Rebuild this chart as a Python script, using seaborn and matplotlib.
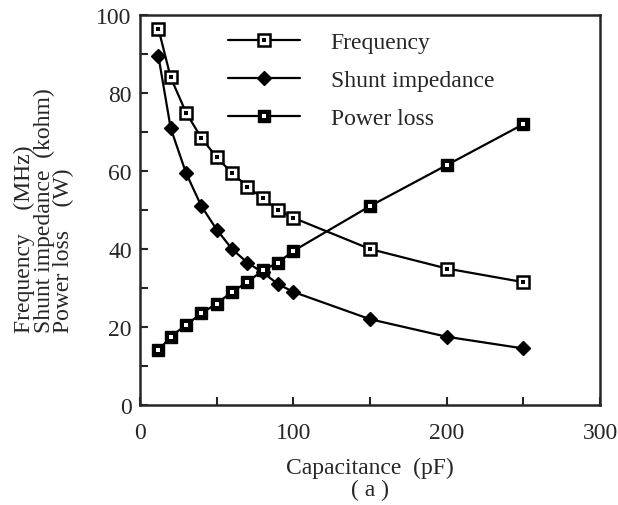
import matplotlib
matplotlib.use("Agg")
import matplotlib.pyplot as plt
import seaborn as sns
import pandas as pd
from matplotlib.lines import Line2D
from matplotlib.legend_handler import HandlerTuple
from matplotlib.ticker import MultipleLocator

# ---- data ----
capacitance = [12, 20, 30, 40, 50, 60, 70, 80, 90, 100, 150, 200, 250]
frequency = [96.5, 84, 75, 68.5, 63.5, 59.5, 56, 53, 50, 48, 40, 35, 31.5]
shunt_impedance = [89.5, 71, 59.5, 51, 45, 40, 36.5, 34, 31, 29, 22, 17.5, 14.5]
power_loss = [14, 17.5, 20.5, 23.5, 26, 29, 31.5, 34.5, 36.5, 39.5, 51, 61.5, 72]
series_names = ["Frequency", "Shunt impedance", "Power loss"]
x_ticks = [0, 100, 200, 300]
y_ticks = [0, 20, 40, 60, 80, 100]

FS = 17

sns.set_style("ticks")
plt.rcParams["font.family"] = ["Liberation Serif", "DejaVu Serif"]
plt.rcParams["font.size"] = FS

df = pd.DataFrame({"C": capacitance, "f": frequency, "R": shunt_impedance, "P": power_loss})

fig = plt.figure(figsize=(6.18, 5.06), dpi=100)
ax = fig.add_axes([140 / 618, 100 / 506, 460 / 618, 390 / 506])

common = dict(color="black", linewidth=1.6, ax=ax, legend=False, markeredgecolor="black")
sns.lineplot(data=df, x="C", y="f", marker="s", markersize=8, markerfacecolor="white",
             markeredgewidth=1.8, **common)
sns.lineplot(data=df, x="C", y="R", marker="D", markersize=7, markerfacecolor="black",
             markeredgewidth=1.0, **common)
sns.lineplot(data=df, x="C", y="P", marker="s", markersize=8, markerfacecolor="black",
             markeredgewidth=1.0, **common)
# center dots
ax.plot(df["C"], df["f"], linestyle="none", marker="s", markersize=2.2,
        markerfacecolor="black", markeredgecolor="black", markeredgewidth=0)
ax.plot(df["C"], df["P"], linestyle="none", marker="s", markersize=2.2,
        markerfacecolor="white", markeredgecolor="white", markeredgewidth=0)

ax.set_xlim(0, 300)
ax.set_ylim(0, 100)
ax.set_xticks(x_ticks)
ax.set_yticks(y_ticks)
ax.xaxis.set_minor_locator(MultipleLocator(50))
ax.yaxis.set_minor_locator(MultipleLocator(10))
ax.tick_params(which="both", direction="in", length=6, width=1.5, top=False, right=False)
ax.tick_params(axis="x", which="major", pad=12, labelsize=FS)
ax.tick_params(axis="y", which="major", pad=6, labelsize=FS)
for s in ax.spines.values():
    s.set_linewidth(1.8)
    s.set_visible(True)

ax.set_xlabel("Capacitance  (pF)\n( a )", fontsize=FS, linespacing=1.1, labelpad=10)
ax.set_ylabel("Frequency    (MHz)\nShunt impedance  (kohm)\nPower loss    (W)",
              fontsize=FS, multialignment="left", linespacing=0.9, labelpad=16)

# legend
h_f = (Line2D([], [], color="black", lw=1.6, marker="s", ms=8, mfc="white", mec="black", mew=1.8),
       Line2D([], [], ls="none", marker="s", ms=2.2, mfc="black", mec="black", mew=0))
h_r = Line2D([], [], color="black", lw=1.6, marker="D", ms=7, mfc="black", mec="black")
h_p = (Line2D([], [], color="black", lw=1.6, marker="s", ms=8, mfc="black", mec="black"),
       Line2D([], [], ls="none", marker="s", ms=2.2, mfc="white", mec="white", mew=0))
ax.legend([h_f, h_r, h_p], series_names, handler_map={tuple: HandlerTuple(ndivide=1, pad=0)},
          loc="upper left", bbox_to_anchor=(0.191, 0.958), frameon=False,
          handlelength=3.05, handletextpad=1.3, labelspacing=0.7, borderpad=0,
          borderaxespad=0, fontsize=FS)

fig.savefig("out.png", dpi=100)
